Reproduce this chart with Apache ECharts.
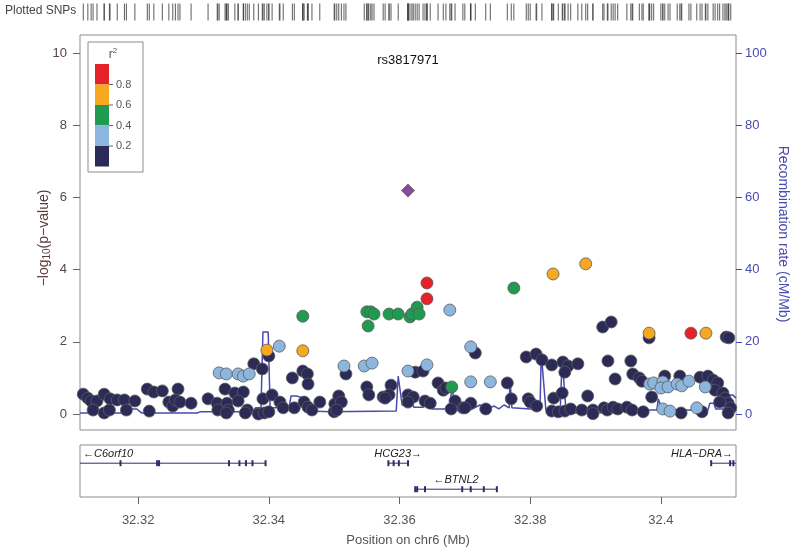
<!DOCTYPE html>
<html><head><meta charset="utf-8">
<script src="https://cdn.jsdelivr.net/npm/echarts@6/dist/echarts.min.js"></script>
<style>html,body{margin:0;padding:0;background:#fff}#c{width:800px;height:553px}</style>
</head><body><div id="c"></div>
<script>
// ---------- DATA ----------
const X_MIN = 32.3111, X_MAX = 32.4115;
const xTicks = [32.32, 32.34, 32.36, 32.38, 32.40];
const xTickLabels = ['32.32', '32.34', '32.36', '32.38', '32.4'];
const yTicks = [0, 2, 4, 6, 8, 10];
const recTicks = [0, 20, 40, 60, 80, 100];
const legendBins = ['0.8', '0.6', '0.4', '0.2'];

const indexSnpName = 'rs3817971';
const indexSnp = [[32.3613, 6.19]];

// [position (Mb), -log10 p] grouped by r2 bin
const snpR2_00_02 = [
[32.3116,0.55],[32.3123,0.44],[32.3128,0.36],[32.3137,0.36],[32.3148,0.55],[32.3157,0.42],[32.3168,0.39],[32.3179,0.39],[32.3195,0.36],[32.3131,0.11],[32.3148,0.03],[32.3156,0.11],[32.3182,0.11],[32.3217,0.08],[32.3214,0.69],[32.3224,0.61],[32.3237,0.64],[32.3261,0.69],[32.3247,0.33],[32.3253,0.22],[32.3257,0.39],[32.3264,0.33],[32.3281,0.30],[32.3307,0.42],
[32.3321,0.30],[32.3333,0.69],[32.3348,0.58],[32.3361,0.61],[32.3336,0.30],[32.3353,0.36],[32.3322,0.11],[32.3338,0.11],[32.3335,0.03],[32.3367,0.11],[32.3364,0.03],[32.3384,0.00],[32.3393,0.03],[32.3400,0.06],[32.3391,0.42],[32.3405,0.53],[32.3417,0.33],[32.3422,0.17],[32.3439,0.17],[32.3454,0.33],[32.3460,0.19],[32.3466,0.11],[32.3478,0.33],[32.3501,0.28],[32.3500,0.06],[32.3377,1.39],[32.3390,1.25],[32.3400,1.61],[32.3436,1.00],[32.3452,1.19],[32.3459,1.11],[32.3460,0.83],
[32.3518,1.11],[32.3507,0.50],[32.3511,0.33],[32.3504,0.11],[32.3550,0.75],[32.3553,0.53],[32.3575,0.47],[32.3587,0.80],[32.3584,0.53],[32.3578,0.44],[32.3624,1.16],[32.3636,1.19],[32.3613,0.53],[32.3621,0.47],[32.3613,0.33],[32.3639,0.36],[32.3647,0.30],[32.3659,0.86],[32.3667,0.66],[32.3671,0.72],[32.3685,0.36],[32.3679,0.14],[32.3697,0.17],[32.3716,1.69],
[32.3765,0.86],[32.3794,1.58],[32.3809,1.66],[32.3818,1.50],[32.3833,1.36],[32.3850,1.44],[32.3858,1.33],[32.3873,1.39],[32.3853,1.16],[32.3911,2.41],[32.3709,0.30],[32.3700,0.17],[32.3732,0.14],[32.3771,0.42],[32.3797,0.42],[32.3800,0.33],[32.3810,0.22],[32.3836,0.44],[32.3849,0.58],[32.3833,0.08],[32.3843,0.06],[32.3853,0.08],[32.3862,0.14],[32.3879,0.11],[32.3888,0.50],[32.3896,0.11],[32.3896,0.01],[32.3913,0.17],
[32.3924,2.55],[32.3982,2.11],[32.4100,2.13],[32.4104,2.11],[32.3919,1.47],[32.3954,1.47],[32.3930,0.97],[32.3957,1.11],[32.3967,1.00],[32.3971,0.91],[32.4006,1.05],[32.4029,1.05],[32.4060,1.02],[32.4072,1.05],[32.4080,0.94],[32.4087,0.86],[32.4083,0.66],[32.4095,0.58],[32.4098,0.44],[32.4103,0.30],[32.4107,0.17],[32.4103,0.03],[32.4090,0.33],[32.3986,0.47],[32.3918,0.11],[32.3927,0.19],[32.3934,0.14],[32.3948,0.19],[32.3956,0.11],[32.3973,0.06],[32.4031,0.03],[32.4063,0.06]
];
const snpR2_02_04 = [
[32.3324,1.14],[32.3335,1.11],[32.3353,1.11],[32.3361,1.05],[32.3370,1.11],[32.3416,1.88],[32.3515,1.33],[32.3546,1.33],[32.3558,1.41],[32.3613,1.19],[32.3642,1.36],[32.3677,2.88],[32.3709,1.86],[32.3709,0.89],[32.3739,0.89],[32.3983,0.83],[32.3989,0.86],[32.4003,0.89],[32.4000,0.72],[32.4011,0.75],[32.4025,0.83],[32.4032,0.78],[32.4043,0.91],[32.4068,0.75],[32.4003,0.14],[32.4014,0.08],[32.4055,0.17]
];
const snpR2_04_06 = [
[32.3452,2.71],[32.3550,2.83],[32.3556,2.83],[32.3561,2.77],[32.3584,2.77],[32.3598,2.77],[32.3616,2.69],[32.3619,2.77],[32.3627,2.96],[32.3630,2.77],[32.3552,2.44],[32.3680,0.75],[32.3775,3.49]
];
const snpR2_06_08 = [
[32.3397,1.77],[32.3452,1.75],[32.3835,3.88],[32.3885,4.16],[32.3982,2.24],[32.4069,2.24]
];
const snpR2_08_10 = [
[32.3642,3.63],[32.3642,3.19],[32.4046,2.24]
];

// recombination rate (cM/Mb)
const recPos = [32.3111,32.3185,32.3191,32.3198,32.3205,32.3290,32.3295,32.3374,32.3380,32.3388,32.3391,32.3399,32.3402,32.3431,32.3434,32.3442,32.3454,32.3463,32.3494,32.3595,32.3598,32.3601,32.3604,32.3610,32.3613,32.3618,32.3622,32.3636,32.3641,32.3645,32.3650,32.3677,32.3680,32.3683,32.3686,32.3708,32.3723,32.3734,32.3745,32.3752,32.3760,32.3768,32.3769,32.3772,32.3800,32.3815,32.3817,32.3820,32.3824,32.3846,32.3849,32.3852,32.3855,32.3907,32.3911,32.3957,32.3962,32.3968,32.3994,32.3996,32.3999,32.4002,32.4072,32.4075,32.4081,32.4084,32.4097,32.4101,32.4110,32.4115];
const recRate = [0.3,0.3,1.4,1.4,0.3,0.3,0.6,0.6,1.7,1.7,22.7,22.7,1.7,1.7,5.0,5.0,4.4,0.8,0.6,0.8,10.5,10.5,2.5,2.5,3.9,3.9,1.9,1.9,2.8,2.8,1.4,1.4,7.8,7.8,1.1,1.1,2.5,1.4,2.2,1.4,2.5,1.7,10.0,1.7,1.4,1.4,16.9,16.9,1.1,1.1,15.5,15.5,0.3,0.3,1.1,1.1,0.3,1.1,1.1,4.2,4.2,1.1,1.1,3.0,3.0,1.4,1.4,5.3,5.3,4.4];

// genes
const geneNames = ['C6orf10', 'HCG23', 'BTNL2', 'HLA\u2212DRA'];
const geneStart = [32.2600, 32.3583, 32.3624, 32.4077];
const geneEnd = [32.3395, 32.3613, 32.3749, 32.4180];
const geneStrand = ['-', '+', '-', '+'];
const geneRow = [0, 0, 1, 0];
const geneExons = [
  [32.3173, 32.3229, 32.3232, 32.3339, 32.3355, 32.3365, 32.3375, 32.3395],
  [32.3583, 32.3591, 32.3599, 32.3613],
  [32.3624, 32.3627, 32.3639, 32.3696, 32.3709, 32.3729, 32.3749],
  [32.4077, 32.4106, 32.4111]
];

// ---------- STYLE ----------
const FONT = 'Liberation Sans, Arial, sans-serif';
const colNavy = '#2c2b58', colLB = '#8cb6de', colGreen = '#1e9b50', colOrange = '#f6a821', colRed = '#e52228', colPurple = '#8a4a9a';
const recColor = '#4a4ab0';
const axisTextColor = '#5a4646';

const G_LEFT = 80, G_WIDTH = 656;

const allPos = [].concat(snpR2_00_02, snpR2_02_04, snpR2_04_06, snpR2_06_08, snpR2_08_10, indexSnp).map(d => [d[0], 0.5]);

function snpSeries(data, color, symbol, size) {
  return {
    type: 'scatter', xAxisIndex: 1, yAxisIndex: 1, data: data,
    symbol: symbol || 'circle', symbolSize: size || 12,
    itemStyle: { color: color, borderColor: '#5a5a5a', borderWidth: 0.8, opacity: 1 },
    z: 3, silent: true, animation: false
  };
}

const geneData = geneNames.map((n, i) => [geneStart[i], geneEnd[i], geneRow[i], i]);

const chart = echarts.init(document.getElementById('c'), null, { renderer: 'canvas' });
chart.setOption({
  animation: false,
  backgroundColor: '#fff',
  textStyle: { fontFamily: FONT },
  grid: [
    { left: G_LEFT, width: G_WIDTH, top: 3, height: 18, show: false },
    { left: G_LEFT, width: G_WIDTH, top: 35, height: 395, show: true, borderColor: '#8c8c8c', borderWidth: 1, backgroundColor: 'transparent' },
    { left: G_LEFT, width: G_WIDTH, top: 445, height: 52, show: true, borderColor: '#8c8c8c', borderWidth: 1, backgroundColor: 'transparent' }
  ],
  xAxis: [
    { gridIndex: 0, type: 'value', min: X_MIN, max: X_MAX, show: false },
    { gridIndex: 1, type: 'value', min: X_MIN, max: X_MAX, show: false },
    { gridIndex: 2, type: 'value', min: X_MIN, max: X_MAX, position: 'bottom',
      axisLine: { show: false, onZero: false }, splitLine: { show: false },
      axisTick: { show: true, customValues: xTicks, length: 7, lineStyle: { color: '#666' } },
      axisLabel: { customValues: xTicks, formatter: v => xTickLabels[xTicks.indexOf(Math.round(v * 100) / 100)] || '', margin: 17, fontSize: 13, color: '#555', fontFamily: FONT },
      name: 'Position on chr6 (Mb)', nameLocation: 'middle', nameGap: 37,
      nameTextStyle: { fontSize: 13, color: '#555', fontFamily: FONT }
    }
  ],
  yAxis: [
    { gridIndex: 0, type: 'value', min: 0, max: 1, show: false },
    { gridIndex: 1, type: 'value', min: -0.443, max: 10.5,
      axisLine: { show: false, onZero: false }, splitLine: { show: false },
      axisTick: { show: true, customValues: yTicks, length: 7, lineStyle: { color: '#666' } },
      axisLabel: { customValues: yTicks, margin: 13, fontSize: 13, color: axisTextColor, fontFamily: FONT }
    },
    { gridIndex: 1, type: 'value', position: 'right', min: -4.43, max: 105,
      axisLine: { show: false, onZero: false }, splitLine: { show: false },
      axisTick: { show: true, customValues: recTicks, length: 6, lineStyle: { color: recColor } },
      axisLabel: { customValues: recTicks, margin: 9, fontSize: 13, color: recColor, fontFamily: FONT }
    },
    { gridIndex: 2, type: 'value', min: -0.7, max: 1.3, inverse: true, show: false }
  ],
  graphic: [
    { type: 'text', left: 5, top: 5, style: { text: 'Plotted SNPs', font: '12px ' + FONT, fill: '#444' } },
    { type: 'text', x: 408, y: 60, style: { text: indexSnpName, font: '13px ' + FONT, fill: '#111', align: 'center', verticalAlign: 'middle' } },
    { type: 'text', x: 44, y: 238, rotation: Math.PI / 2,
      style: { text: '{a|\u2212log}{s|10}{a|(p\u2212value)}', align: 'center', verticalAlign: 'middle',
        rich: { a: { font: '14px ' + FONT, fill: '#5a3a3a' }, s: { font: '10px ' + FONT, fill: '#5a3a3a', padding: [6, 0, 0, 0] } } } },
    { type: 'text', x: 783, y: 234, rotation: -Math.PI / 2,
      style: { text: 'Recombination rate (cM/Mb)', font: '14px ' + FONT, fill: recColor, align: 'center', verticalAlign: 'middle' } },
    // legend
    { type: 'rect', shape: { x: 88, y: 42, width: 55, height: 130 }, style: { fill: '#fff', stroke: '#8c8c8c', lineWidth: 1 }, z: 10 },
    { type: 'text', x: 113, y: 55, z: 11, style: { text: 'r{s|2}', font: '12px ' + FONT, fill: '#555', align: 'center', verticalAlign: 'middle', rich: { s: { font: '8px ' + FONT, fill: '#555', padding: [0, 0, 8, 0] } } } },
    { type: 'rect', z: 11, shape: { x: 95, y: 64, width: 14, height: 20.5 }, style: { fill: colRed } },
    { type: 'rect', z: 11, shape: { x: 95, y: 84.5, width: 14, height: 20.5 }, style: { fill: colOrange } },
    { type: 'rect', z: 11, shape: { x: 95, y: 105, width: 14, height: 20.5 }, style: { fill: colGreen } },
    { type: 'rect', z: 11, shape: { x: 95, y: 125.5, width: 14, height: 20.5 }, style: { fill: colLB } },
    { type: 'rect', z: 11, shape: { x: 95, y: 146, width: 14, height: 20.5 }, style: { fill: colNavy } }
  ].concat(legendBins.map((t, i) => ({
    type: 'group', z: 11, children: [
      { type: 'line', z: 11, shape: { x1: 109, y1: 84.5 + i * 20.5, x2: 113, y2: 84.5 + i * 20.5 }, style: { stroke: '#666', lineWidth: 1 } },
      { type: 'text', z: 11, x: 116, y: 84.5 + i * 20.5, style: { text: t, font: '11px ' + FONT, fill: '#555', verticalAlign: 'middle' } }
    ]
  }))),
  series: [
    { type: 'scatter', xAxisIndex: 0, yAxisIndex: 0, data: allPos, symbol: 'rect', symbolSize: [1, 17],
      itemStyle: { color: '#333' }, silent: true },
    { type: 'line', xAxisIndex: 1, yAxisIndex: 2, data: recPos.map((p, i) => [p, recRate[i]]),
      symbol: 'none', lineStyle: { color: recColor, width: 1.5 }, z: 2, silent: true },
    snpSeries(snpR2_00_02, colNavy),
    snpSeries(snpR2_02_04, colLB),
    snpSeries(snpR2_04_06, colGreen),
    snpSeries(snpR2_06_08, colOrange),
    snpSeries(snpR2_08_10, colRed),
    snpSeries(indexSnp, colPurple, 'diamond', 13),
    { type: 'custom', xAxisIndex: 2, yAxisIndex: 3, data: geneData, silent: true,
      renderItem: function (params, api) {
        const i = api.value(3);
        const s = Math.max(api.value(0), X_MIN), e = Math.min(api.value(1), X_MAX);
        const row = api.value(2);
        const p1 = api.coord([s, row]), p2 = api.coord([e, row]);
        const children = [
          { type: 'line', shape: { x1: p1[0], y1: p1[1], x2: p2[0], y2: p2[1] }, style: { stroke: '#2d2d6b', lineWidth: 1 } }
        ];
        geneExons[i].forEach(ex => {
          if (ex < X_MIN || ex > X_MAX) return;
          const c = api.coord([ex, row]);
          children.push({ type: 'rect', shape: { x: c[0] - 1, y: c[1] - 3, width: 2, height: 6 }, style: { fill: '#2d2d6b' } });
        });
        const label = geneStrand[i] === '-' ? '\u2190' + geneNames[i] : geneNames[i] + '\u2192';
        let lx, align;
        const gl = params.coordSys.x, gr = params.coordSys.x + params.coordSys.width;
        if (api.value(0) < X_MIN) { lx = gl + 3; align = 'left'; }
        else if (api.value(1) > X_MAX) { lx = gr - 3; align = 'right'; }
        else { lx = (api.coord([api.value(0), row])[0] + api.coord([api.value(1), row])[0]) / 2; align = 'center'; }
        children.push({ type: 'text', x: lx, y: p1[1] - 9, style: { text: label, font: 'italic 11px ' + FONT, fill: '#222', align: align, verticalAlign: 'middle' } });
        return { type: 'group', children: children };
      }
    }
  ]
});
</script>
</body></html>
